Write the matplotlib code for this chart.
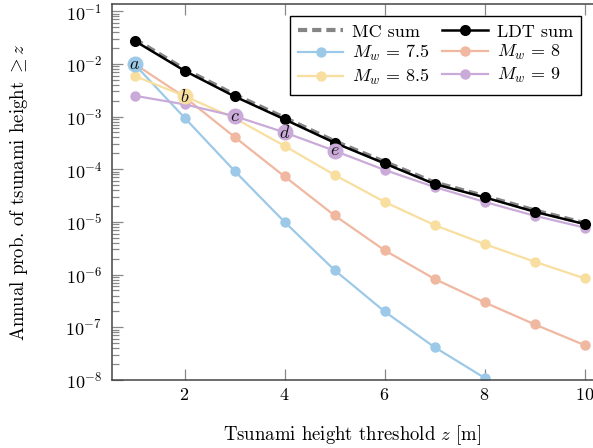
import matplotlib
matplotlib.use('Agg')
import matplotlib.pyplot as plt

plt.rcParams['font.family'] = 'cmr10'
plt.rcParams['mathtext.fontset'] = 'cm'
plt.rcParams['axes.formatter.use_mathtext'] = True

# ---- data ----
z = [1, 2, 3, 4, 5, 6, 7, 8, 9, 10]
mc_sum = [2.95e-2, 7.9e-3, 2.6e-3, 9.5e-4, 3.4e-4, 1.38e-4, 5.6e-5, 3.1e-5, 1.66e-5, 9.5e-6]
ldt_sum = [2.74e-2, 7.4e-3, 2.41e-3, 8.85e-4, 3.18e-4, 1.29e-4, 5.24e-5, 2.93e-5, 1.56e-5, 9.1e-6]
mw_labels = ['7.5', '8', '8.5', '9']
p_mw75 = [9.8e-3, 9.5e-4, 9.3e-5, 1.0e-5, 1.22e-6, 2.0e-7, 4.2e-8, 1.1e-8, 2.5e-9, 6e-10]
p_mw8 = [1.0e-2, 2.35e-3, 4.1e-4, 7.3e-5, 1.33e-5, 2.9e-6, 8.3e-7, 2.98e-7, 1.14e-7, 4.6e-8]
p_mw85 = [5.9e-3, 2.45e-3, 9.3e-4, 2.77e-4, 7.8e-5, 2.4e-5, 8.7e-6, 3.8e-6, 1.76e-6, 8.5e-7]
p_mw9 = [2.48e-3, 1.7e-3, 1.02e-3, 5.0e-4, 2.24e-4, 9.7e-5, 4.6e-5, 2.4e-5, 1.31e-5, 7.8e-6]
mw_series = [p_mw75, p_mw8, p_mw85, p_mw9]
mw_colors = ['#9dc9e8', '#f0b8a0', '#f8dfa0', '#c9aad8']

# annotated points: (letter, series index, z index)
ann_letters = ['a', 'b', 'c', 'd', 'e']
ann_series = [0, 2, 3, 3, 3]
ann_zidx = [0, 1, 2, 3, 4]

W, H = 593, 448
fig = plt.figure(figsize=(W / 100, H / 100), dpi=100)
ax = fig.add_axes([112 / W, 68 / H, 495 / W, 376 / H])
ax.set_yscale('log')

mw_handles = []
for vals, col, lab in zip(mw_series, mw_colors, mw_labels):
    h, = ax.plot(z, vals, '-o', color=col, lw=1.6, ms=7.5, mew=0,
                 label=r'$M_w\,=\,%s$' % lab, zorder=2)
    mw_handles.append(h)

h_mc, = ax.plot(z, mc_sum, '--', color='#858585', lw=3.0, dashes=(2.2, 1.2),
                label='MC sum', zorder=3)
h_ldt, = ax.plot(z, ldt_sum, '-o', color='black', lw=1.8, ms=8, mew=0,
                 label='LDT sum', zorder=4)

for letter, si, zi in zip(ann_letters, ann_series, ann_zidx):
    ax.plot(z[zi], mw_series[si][zi], 'o', color=mw_colors[si], ms=11.5, mew=0, zorder=5)
    ax.text(z[zi], mw_series[si][zi], r'$%s$' % letter, ha='center', va='center',
            fontsize=13, zorder=6, color='#111111')

ax.set_xlim(0.55, 10.45)
ax.set_ylim(1e-8, 10 ** (-0.865))
ax.set_xticks([2, 4, 6, 8, 10])

ax.tick_params(which='both', direction='in', top=True, right=True,
               color='#888888', labelsize=13, labelcolor='black')
ax.tick_params(which='major', length=8, width=0.9)
ax.tick_params(which='minor', length=5, width=0.9)
ax.tick_params(axis='x', which='major', pad=5)
ax.tick_params(axis='y', which='major', pad=7)
for sp in ax.spines.values():
    sp.set_color('#444444')
    sp.set_linewidth(1.1)

ax.set_xlabel(r'Tsunami height threshold $z$ [m]', fontsize=13.5)
ax.xaxis.set_label_coords(0.485, -0.114)
ax.set_ylabel(r'Annual prob. of tsunami height $\geq z$', fontsize=13.5)
ax.yaxis.set_label_coords(-0.165, 0.5)

handles = [h_mc, mw_handles[0], mw_handles[2], h_ldt, mw_handles[1], mw_handles[3]]
leg = fig.legend(handles=handles, labels=[h.get_label() for h in handles],
                 ncol=2, loc='upper right', bbox_to_anchor=(581 / W, 1 - 16 / H),
                 fancybox=False, edgecolor='black', framealpha=1, fontsize=13,
                 handlelength=2.5, columnspacing=0.7, handletextpad=0.5,
                 borderpad=0.45, labelspacing=0.2, borderaxespad=0)
leg.get_frame().set_linewidth(1.0)

fig.savefig('out.png', dpi=100)
